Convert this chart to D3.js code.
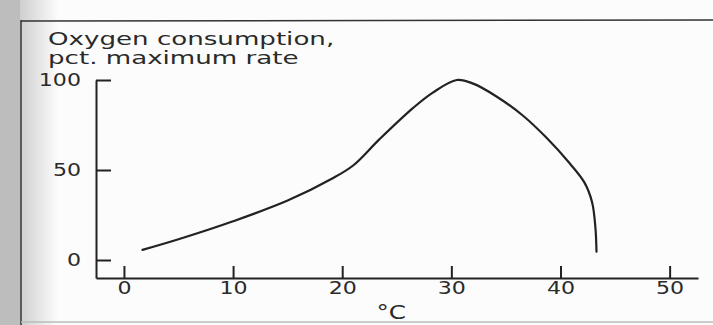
<!DOCTYPE html>
<html>
<head>
<meta charset="utf-8">
<script src="https://cdn.jsdelivr.net/npm/d3@7"></script>
<style>
  body { margin: 0; background: #fcfcfc; }
  text { font-family: "DejaVu Sans", sans-serif; fill: #2a2a2a; }
</style>
</head>
<body>
<svg></svg>
<script>
// oxygen consumption vs temperature
const temps = [1.7, 5, 10, 15, 19, 21, 23.4, 26.5, 28.3, 30.5, 32.0, 34.1, 36.6, 38.7, 40.8, 42.2, 42.9, 43.2, 43.3]
const rates = [5.6, 11.5, 21.5, 33, 45, 52.5, 67, 84.5, 93, 100, 98, 91, 80, 68, 54, 43, 32, 18, 4.6]
const xTicks = [0, 10, 20, 30, 40, 50]
const yTicks = [0, 50, 100]
const titleLines = ["Oxygen consumption,", "pct. maximum rate"]
const xLabel = "°C"

const W = 713, H = 325
const svg = d3.select("svg").attr("width", W).attr("height", H)

// scanned page edge on the left + box border
const grad = svg.append("defs").append("linearGradient").attr("id", "fade")
grad.append("stop").attr("offset", "0%").attr("stop-color", "#cfcfcf")
grad.append("stop").attr("offset", "100%").attr("stop-color", "#fcfcfc")
svg.append("rect").attr("x", 0).attr("y", 0).attr("width", 20).attr("height", H).style("fill", "#bdbdbd")
svg.append("rect").attr("x", 20).attr("y", 0).attr("width", 38).attr("height", H).style("fill", "url(#fade)")
svg.append("line").attr("x1", 21).attr("x2", 21).attr("y1", 20).attr("y2", H).style("stroke", "#333").style("stroke-width", 1.5)
svg.append("line").attr("x1", 21).attr("x2", W).attr("y1", 21).attr("y2", 20).style("stroke", "#333").style("stroke-width", 1.5)
svg.append("line").attr("x1", 21).attr("x2", W).attr("y1", 322).attr("y2", 322).style("stroke", "#bbb").style("stroke-width", 1.5)

const x = d3.scaleLinear().domain([-2.56, 52.6]).range([96, 698]),
      y = d3.scaleLinear().domain([-10, 100]).range([278, 80])

// glyphs in the scan are much wider than tall
const stretch = (sel, k) => sel.each(function () {
  const w = this.getComputedTextLength()
  d3.select(this).attr("textLength", w * k).attr("lengthAdjust", "spacingAndGlyphs")
})

svg.append("text").text(titleLines[0]).attr("x", 48).attr("y", 45).style("font-size", "18px").call(stretch, 1.45)
svg.append("text").text(titleLines[1]).attr("x", 48).attr("y", 64).style("font-size", "18px").call(stretch, 1.45)

const xAxis = svg.append("g").attr("transform", `translate(0,${y(-10)})`)
  .call(d3.axisBottom(x).tickValues(xTicks).tickSizeInner(-12).tickSizeOuter(0).tickPadding(4))
const yAxis = svg.append("g").attr("transform", `translate(${x(-2.56)},0)`)
  .call(d3.axisLeft(y).tickValues(yTicks).tickSizeInner(-15).tickSizeOuter(0).tickPadding(15))

svg.selectAll(".domain, .tick line").style("stroke", "#222").style("stroke-width", 2)
svg.selectAll(".tick text").style("font-size", "17px").style("font-family", "DejaVu Sans, sans-serif").style("fill", "#2a2a2a").call(stretch, 1.3)

svg.append("text").text(xLabel).attr("x", x(24.5)).attr("y", 319).style("text-anchor", "middle").style("font-size", "19px").call(stretch, 1.3)

const data = temps.map((t, i) => ({t: t, r: rates[i]}))
const line = d3.line().x(d => x(d.t)).y(d => y(d.r)).curve(d3.curveCatmullRom.alpha(0.5))

svg.append("path").datum(data).attr("d", line)
  .style("fill", "none").style("stroke", "#222").style("stroke-width", 2.2).style("stroke-linecap", "round")
</script>
</body>
</html>
